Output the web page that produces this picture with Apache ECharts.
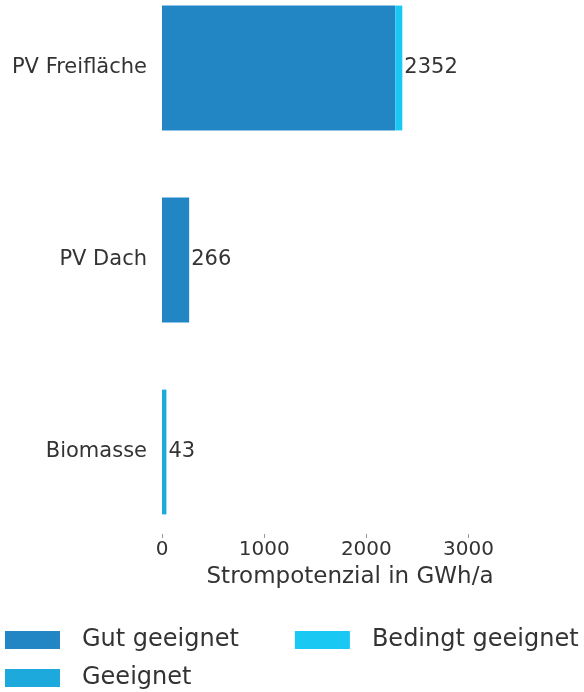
<!DOCTYPE html>
<html><head><meta charset="utf-8">
<script src="https://cdn.jsdelivr.net/npm/echarts@6/dist/echarts.min.js"></script>
<style>html,body{margin:0;padding:0;background:#fff;overflow:hidden}#wrap{width:584px;height:692px;overflow:hidden;position:relative}#c{width:584px;height:740px;position:absolute;top:-28px;left:0}</style>
</head><body><div id="wrap"><div id="c"></div></div>
<script>
const categories = ['PV Freifläche', 'PV Dach', 'Biomasse'];
const gutGeeignet = [2284, 266, 0];
const geeignet = [0, 0, 43];
const bedingtGeeignet = [68, 0, 0];
const xTicks = [0, 1000, 2000, 3000];

const seriesDefs = [
  {name: 'Gut geeignet', data: gutGeeignet, color: '#2386c4'},
  {name: 'Geeignet', data: geeignet, color: '#1ea9dd'},
  {name: 'Bedingt geeignet', data: bedingtGeeignet, color: '#1ac8f4'}
];
const totals = categories.map((c, i) => seriesDefs.reduce((s, d) => s + d.data[i], 0));
const lastIdx = categories.map((c, i) => {
  let k = -1; seriesDefs.forEach((d, j) => { if (d.data[i] > 0) k = j; }); return k;
});
const font = 'DejaVu Sans';
const legendBase = {
  left: 5, padding: 0,
  itemWidth: 55, itemHeight: 18, itemGap: 56,
  icon: 'rect',
  textStyle: {fontSize: 24, lineHeight: 28, color: '#333', fontFamily: font, padding: [0, 0, 0, 17]}
};
const chart = echarts.init(document.getElementById('c'));
chart.setOption({
  animation: false,
  textStyle: {fontFamily: font},
  grid: {left: 162, right: 46, top: 0, bottom: 164},
  legend: [
    Object.assign({}, legendBase, {data: ['Gut geeignet', 'Bedingt geeignet'], top: 654}),
    Object.assign({}, legendBase, {data: ['Geeignet'], top: 692})
  ],
  yAxis: {
    type: 'category', data: categories, inverse: true,
    axisLine: {show: false}, axisTick: {show: false},
    axisLabel: {fontSize: 21, color: '#333', margin: 15}
  },
  xAxis: {
    type: 'value', min: 0, max: 3680, interval: 1000, offset: -10,
    axisLine: {show: false}, splitLine: {show: false},
    axisTick: {show: true, inside: true, length: 4, lineStyle: {color: '#999'}},
    axisLabel: {fontSize: 20, color: '#333', margin: 2, showMaxLabel: false,
      formatter: v => xTicks.includes(v) ? String(v) : ''},
    name: 'Strompotenzial in GWh/a', nameLocation: 'middle', nameGap: 28,
    nameTextStyle: {fontSize: 23, color: '#333'}
  },
  series: seriesDefs.map((d, j) => ({
    name: d.name, type: 'bar', stack: 'a', barWidth: '65%',
    itemStyle: {color: d.color},
    data: d.data.map((v, i) => ({
      value: v,
      label: {show: lastIdx[i] === j, position: 'right', distance: 2,
        fontSize: 21, color: '#333', formatter: String(totals[i])}
    }))
  }))
});
</script></body></html>
